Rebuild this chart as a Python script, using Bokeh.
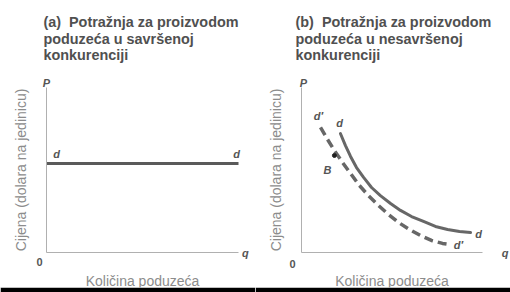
from bokeh.plotting import figure
from bokeh.models import Label, LinearAxis, FixedTicker, Range1d
from bokeh.layouts import row
from bokeh.embed import file_html
from bokeh.resources import INLINE

FONT = "Liberation Sans"

# ---------------- data ----------------
titles = ["(a)\u00a0\u00a0Potražnja za proizvodom\npoduzeća u savršenoj\nkonkurenciji",
          "(b)\u00a0\u00a0Potražnja za proizvodom\npoduzeća u nesavršenoj\nkonkurenciji"]
y_label = "Cijena (dolara na jedinicu)"
x_label = "Količina poduzeća"

# (a) perfectly elastic demand
flat_q = [0.0, 10.0]
flat_p = [5.4, 5.4]

# (b) downward sloping demand d and shifted demand d'
d_q = [2.15, 2.43, 2.71, 3.04, 3.43, 3.87, 4.36, 4.92, 5.47, 6.08, 6.74, 7.40, 8.07, 8.73, 9.34]
d_p = [7.21, 6.48, 5.82, 5.15, 4.55, 3.94, 3.45, 2.97, 2.55, 2.18, 1.88, 1.58, 1.39, 1.27, 1.21]
d2_q = [1.05, 1.44, 1.82, 2.27, 2.71, 3.20, 3.70, 4.25, 4.81, 5.36, 5.97, 6.57, 7.18, 7.79, 8.23]
d2_p = [7.58, 6.85, 6.18, 5.45, 4.79, 4.06, 3.45, 2.85, 2.30, 1.82, 1.39, 1.03, 0.73, 0.55, 0.48]
B_q = [1.82]
B_p = [5.88]

TITLE_C = "#505050"
AXLAB_C = "#8c8c8c"
SMALL_C = "#555555"
AX_C = "#b0b0b0"


def make_panel(title, xr, title_x):
    p = figure(width=255, height=292, x_range=Range1d(*xr), y_range=Range1d(-2.121, 15.273),
               output_backend="svg", toolbar_location=None,
               x_axis_location=None, y_axis_location=None,
               min_border=0, min_border_bottom=5)
    p.min_border_left = 0
    p.min_border_right = 0
    p.min_border_top = 0
    p.title.visible = False
    p.outline_line_color = None
    p.background_fill_color = "white"
    p.border_fill_color = "black"
    for g in p.grid:
        g.visible = False

    yax = LinearAxis(ticker=FixedTicker(ticks=[]), axis_label=y_label,
                     fixed_location=0, bounds=(0, 10))
    xax = LinearAxis(ticker=FixedTicker(ticks=[]), axis_label=x_label,
                     fixed_location=0, bounds=(0, 10))
    for ax, st in ((yax, 18), (xax, 20)):
        ax.axis_line_color = AX_C
        ax.axis_line_width = 1
        ax.major_tick_line_color = None
        ax.minor_tick_line_color = None
        ax.major_tick_out = 0
        ax.major_tick_in = 0
        ax.minor_tick_out = 0
        ax.major_label_standoff = 0
        ax.major_label_text_font_size = "0px"
        ax.axis_label_standoff = st
        ax.axis_label_text_font = FONT
        ax.axis_label_text_font_size = "14px"
        ax.axis_label_text_font_style = "normal"
        ax.axis_label_text_color = AXLAB_C
    p.add_layout(yax, "left")
    p.add_layout(xax, "below")

    p.add_layout(Label(x=title_x, y=14.48, text=title, text_font=FONT,
                       text_font_size="14.4px", text_font_style="bold",
                       text_color=TITLE_C, text_baseline="top", text_align="left",
                       text_line_height=1.06))
    return p


def small(p, x, y, t, style="bold italic"):
    p.add_layout(Label(x=x, y=y, text=t, text_font=FONT, text_font_size="11px",
                       text_font_style=style, text_color=SMALL_C,
                       text_align="center", text_baseline="middle"))


# ---------------- panel (a) ----------------
pa = make_panel(titles[0], (-2.396, 10.885), -0.16)
pa.line(flat_q, flat_p, line_color="#5a5a5a", line_width=3)
small(pa, 0.0, 10.3, "P")
small(pa, 10.36, -0.06, "q")
small(pa, -0.36, -0.6, "0", style="bold")
small(pa, 0.52, 6.0, "d")
small(pa, 9.9, 6.0, "d")

# ---------------- panel (b) ----------------
pb = make_panel(titles[1], (-2.541, 11.547), -0.33)
pb.line(d_q, d_p, line_color="#676767", line_width=3, line_join="round", line_cap="round")
pb.line(d2_q, d2_p, line_color="#676767", line_width=3.5, line_dash="9 5", line_join="round")
pb.scatter(B_q, B_p, size=4, color="#222222")
small(pb, 0.11, 10.3, "P")
small(pb, 11.25, -0.06, "q")
small(pb, -0.5, -0.67, "0", style="bold")
small(pb, 0.94, 8.30, "d\u2032")
small(pb, 2.10, 7.82, "d")
small(pb, 9.78, 1.15, "d")
small(pb, 8.67, 0.48, "d\u2032")
small(pb, 1.44, 4.97, "B")

layout = row(pa, pb, spacing=0)

open("out.html", "w").write(file_html(layout, INLINE))
